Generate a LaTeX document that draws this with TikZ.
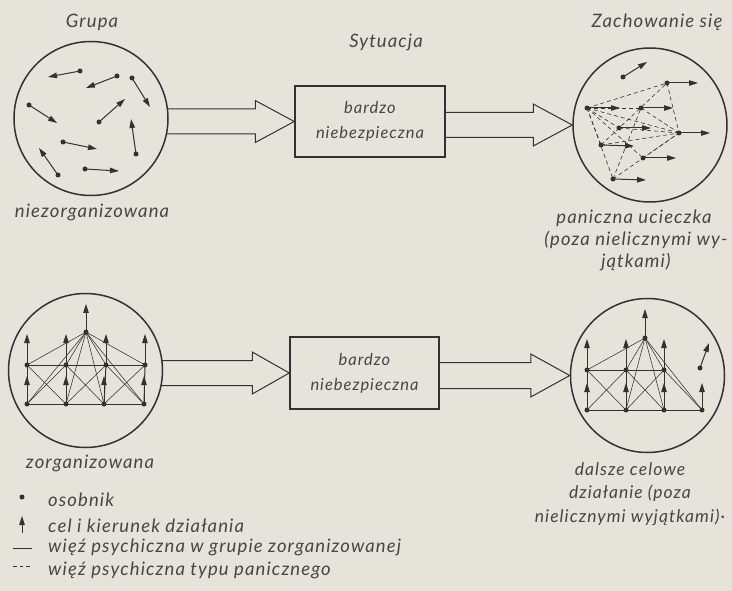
\documentclass[tikz,border=0pt]{standalone}
\usepackage{fontspec}
\setmainfont[LetterSpace=6]{Lato}
\usetikzlibrary{arrows.meta,calc}
\definecolor{bg}{RGB}{230,227,219}
\definecolor{ink}{RGB}{50,50,50}
\definecolor{txt}{RGB}{70,70,70}
\newcommand\lblfont{\fontsize{18.5}{22}\selectfont\itshape}
\newcommand\smlfont{\fontsize{17.5}{22}\selectfont\itshape}
\newcommand\boxfont{\fontsize{16.5}{22}\selectfont\itshape}
\newcommand\actor[3]{\node[dot] (#1) at (#2) {}; \coordinate (#1t) at (#3); \draw[act] (#1.center) -- (#1t);}
\newcommand\hollowarrow[5]{\draw[bigarrow] let \p1=(#1), \p2=(#2) in
  (\x1,\y2+#3) -- (\x2-#5,\y2+#3) -- (\x2-#5,\y2+#4) -- (\x2,\y2) -- (\x2-#5,\y2-#4) -- (\x2-#5,\y2-#3) -- (\x1,\y2-#3);}
\begin{document}
\begin{tikzpicture}[x=1pt,y=-1pt,
  dot/.style={circle,fill=ink,inner sep=0pt,minimum size=5pt},
  act/.style={draw=ink,line width=1pt,-{Triangle[length=9pt,width=5.5pt]}},
  bond/.style={draw=ink,line width=0.55pt},
  pbond/.style={draw=ink,line width=0.6pt,dash pattern=on 4pt off 3pt},
  grp/.style={circle,draw=ink,line width=1.5pt,minimum size=154pt,inner sep=0pt},
  sit/.style={draw=ink,line width=1.5pt,minimum width=150pt,minimum height=71pt,inner sep=0pt,align=center,font=\boxfont,text=txt},
  lbl/.style={text=txt,font=\lblfont,inner sep=0pt},
  slbl/.style={text=txt,font=\smlfont,inner sep=0pt},
  bigarrow/.style={draw=ink,line width=1pt,line join=miter}
]
\useasboundingbox (0,0) rectangle (732,591);
\fill[bg] (0,0) rectangle (732,591);

% ---------- groups and situations ----------
\node[grp] (g1) at (91,118.5) {};
\node[grp] (g2) at (650,125) {};
\node[grp] (g3) at (85.5,370.5) {};
\node[grp] (g4) at (647.5,375.5) {};
\node[sit] (s1) at (370,121.5) {bardzo\\[3pt]niebezpieczna};
\node[sit,minimum width=149pt,minimum height=72pt] (s2) at (364.5,373) {bardzo\\[3pt]niebezpieczna};

\hollowarrow{$(g1.east)+(-2,0)$}{s1.west}{12.5pt}{21pt}{39pt}
\hollowarrow{s1.east}{g2.west}{12.5pt}{21pt}{39pt}
\hollowarrow{$(g3.east)+(-2,0)$}{s2.west}{12.5pt}{21pt}{37pt}
\hollowarrow{s2.east}{g4.west}{13pt}{21.5pt}{39pt}

% ---------- titles ----------
\node[lbl] (tg) at (92,22) {Grupa};
\node[lbl] (ts) at (386,42) {Sytuacja};
\node[lbl] (tz) at (657,22) {Zachowanie się};
\node[lbl] (l1) at (92,212) {niezorganizowana};
\node[lbl] (l2a) at (634,218) {paniczna ucieczka};
\node[lbl] (l2b) at (636,240) {(poza nielicznymi wy-};
\node[lbl] (l2c) at (636,262) {jątkami)};
\node[lbl] (l3) at (90,463) {zorganizowana};
\node[slbl] (l4a) at (630,469) {dalsze celowe};
\node[slbl] (l4b) at (630,493) {działanie (poza};
\node[slbl] (l4c) at (630,517) {nielicznymi wyjątkami)·};

% ---------- unorganised group ----------
\actor{u1}{80,71}{48,77}
\actor{u2}{117,76}{86,88}
\actor{u3}{132,78}{150,107}
\actor{u4}{29,105}{57,123}
\actor{u5}{99,122}{125,99}
\actor{u6}{136,154}{131,119}
\actor{u7}{63,142}{97,149}
\actor{u8}{58,175}{39,148}
\actor{u9}{85,169}{119,171}

% ---------- panic ----------
\actor{pi}{623,77}{647,62}
\actor{pA}{667,83}{698,83}
\actor{pB}{587,108}{620,108}
\actor{pC}{641,108}{673,108}
\actor{pD}{619,128}{651,128}
\actor{pE}{679,133}{710,133}
\actor{pF}{601,145}{634,146}
\actor{pG}{643,158}{676,158}
\actor{pH}{613,179}{646,180}
\foreach \t in {pA,pC,pD,pE,pF,pG,pH} \draw[pbond] (pB.center) -- (\t.center);
\draw[pbond] (pF.center) -- (pA.center);
\foreach \s in {pF,pC,pD,pG,pH,pA} \draw[pbond] (\s.center) -- (pE.center);
\draw[pbond] (pH.center) -- (pC.center);

% ---------- organised group ----------
\node[dot] (zT) at (86,332) {};
\coordinate (zTt) at (86,304);
\foreach \n/\x in {A/27,B/66,C/106,D/145} {
  \node[dot] (z\n1) at (\x,365) {};
  \coordinate (z\n1t) at (\x,334);
}
\foreach \n/\x in {A/27,B/66,C/104,D/144} {
  \node[dot] (z\n2) at (\x,404) {};
  \coordinate (z\n2t) at (\x,376);
}
\foreach \n in {A1,B1,C1,D1,A2,B2,C2,D2} \draw[bond] (zT.center) -- (z\n.center);
\draw[bond] (zA1.center) -- (zD1.center);
\draw[bond] (zA2.center) -- (zD2.center);
\draw[bond] (zA1.center) -- (zB2.center) (zB1.center) -- (zA2.center);
\draw[bond] (zB1.center) -- (zC2.center) (zC1.center) -- (zB2.center);
\draw[bond] (zC1.center) -- (zD2.center) (zD1.center) -- (zC2.center);
\foreach \n in {A,B,C,D} {
  \draw[bond,line width=1pt] (z\n2.center) -- (z\n1.center);
  \draw[act] (z\n2.center) -- (z\n2t);
  \draw[act] (z\n1.center) -- (z\n1t);
}
\draw[act] (zT.center) -- (zTt);

% ---------- organised group after situation ----------
\node[dot] (yT) at (645,338) {};
\coordinate (yTt) at (645,309);
\foreach \n/\x in {A/587,B/626,C/664} {
  \node[dot] (y\n1) at (\x,370) {};
  \coordinate (y\n1t) at (\x,339);
}
\foreach \n/\x in {A/587,B/626,C/664,D/702} {
  \node[dot] (y\n2) at (\x,410) {};
  \coordinate (y\n2t) at (\x,383);
}
\foreach \n in {A1,B1,C1,B2,C2,D2} \draw[bond] (yT.center) -- (y\n.center);
\draw[bond] (yA1.center) -- (yC1.center);
\draw[bond] (yA2.center) -- (yD2.center);
\draw[bond] (yA1.center) -- (yB2.center) (yB1.center) -- (yA2.center);
\draw[bond] (yB1.center) -- (yC2.center) (yC1.center) -- (yB2.center);
\draw[bond] (yC1.center) -- (yD2.center);
\foreach \n in {A,B,C} {
  \draw[bond,line width=1pt] (y\n2.center) -- (y\n1.center);
  \draw[act] (y\n1.center) -- (y\n1t);
}
\foreach \n in {A,B,C,D} \draw[act] (y\n2.center) -- (y\n2t);
\draw[act] (yT.center) -- (yTt);
\actor{yI}{700,368}{709,343}

% ---------- legend ----------
\node[dot] (ld) at (22,497) {};
\node[lbl,anchor=west] (lt1) at (48,500) {osobnik};
\coordinate (la0) at (22,533);
\coordinate (la1) at (22,516);
\draw[act] (la0) -- (la1);
\node[lbl,anchor=west] (lt2) at (48,526) {cel i kierunek działania};
\coordinate (ls0) at (13,548);
\coordinate (ls1) at (32,548);
\draw[draw=ink,line width=0.8pt] (ls0) -- (ls1);
\node[lbl,anchor=west] (lt3) at (48,547) {więź psychiczna w grupie zorganizowanej};
\coordinate (lp0) at (13,566);
\coordinate (lp1) at (32,566);
\draw[draw=ink,line width=0.8pt,dash pattern=on 3.5pt off 3pt] (lp0) -- (lp1);
\node[lbl,anchor=west] (lt4) at (48,570) {więź psychiczna typu panicznego};
\end{tikzpicture}
\end{document}
